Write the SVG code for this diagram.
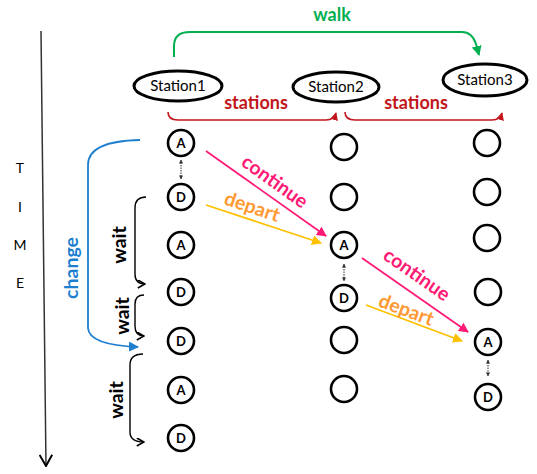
<svg xmlns="http://www.w3.org/2000/svg" width="537" height="474" viewBox="0 0 537 474">
<style>
.st{fill:#fff;stroke:#000;stroke-width:3}
.nd{fill:#fff;stroke:#000;stroke-width:2.6}
.t{font-family:Lato,"Open Sans","Liberation Sans",sans-serif;text-anchor:middle}
.sl{font-size:15px}
.nl{font-size:13px;font-weight:bold}
.lb{font-size:18px;font-weight:bold}
.rl{font-size:19.5px;font-weight:bold}
.tm{font-size:14px}
.ln{fill:none}
</style>
<defs>
<marker id="mg" viewBox="0 0 10 10" refX="9" refY="5" markerWidth="10" markerHeight="10" markerUnits="userSpaceOnUse" orient="auto"><path d="M0,0 L10,5 L0,10 Z" fill="#00B050"/></marker>
<marker id="mr" viewBox="0 0 10 10" refX="9" refY="5" markerWidth="8" markerHeight="8" markerUnits="userSpaceOnUse" orient="auto"><path d="M0,0 L10,5 L0,10 Z" fill="#C0161C"/></marker>
<marker id="mp" viewBox="0 0 10 10" refX="9" refY="5" markerWidth="10" markerHeight="10" markerUnits="userSpaceOnUse" orient="auto"><path d="M0,0 L10,5 L0,10 Z" fill="#FF1A75"/></marker>
<marker id="my" viewBox="0 0 10 10" refX="9" refY="5" markerWidth="10" markerHeight="10" markerUnits="userSpaceOnUse" orient="auto"><path d="M0,0 L10,5 L0,10 Z" fill="#FFC000"/></marker>
<marker id="mb" viewBox="0 0 10 10" refX="9" refY="5" markerWidth="10" markerHeight="10" markerUnits="userSpaceOnUse" orient="auto"><path d="M0,0 L10,5 L0,10 Z" fill="#1E7FD0"/></marker>
<marker id="mk" viewBox="0 0 10 10" refX="9" refY="5" markerWidth="9" markerHeight="9" markerUnits="userSpaceOnUse" orient="auto"><path d="M1,0.5 L9,5 L1,9.5" fill="none" stroke="#000" stroke-width="1.8"/></marker>
<marker id="md" viewBox="0 0 10 10" refX="9" refY="5" markerWidth="4" markerHeight="4" markerUnits="userSpaceOnUse" orient="auto-start-reverse"><path d="M0,0 L10,5 L0,10 Z" fill="#333"/></marker>
<marker id="mt" viewBox="0 0 10 10" refX="9" refY="5" markerWidth="14" markerHeight="14" markerUnits="userSpaceOnUse" orient="auto"><path d="M1,0.5 L9,5 L1,9.5" fill="none" stroke="#000" stroke-width="1.4"/></marker>
</defs>

<g id="time-axis">
<line x1="41" y1="31" x2="46" y2="466" stroke="#333" stroke-width="1.5" marker-end="url(#mt)"/>
<text class="t tm" x="20" y="173">T</text>
<text class="t tm" x="20" y="212">I</text>
<text class="t tm" x="20" y="250">M</text>
<text class="t tm" x="20" y="288">E</text>
</g>

<g id="connectors">
<path class="ln" d="M174,57 L174,46 Q174,32 190,32 L462,32 Q472,32 476,44 L479,55" stroke="#00B050" stroke-width="2" marker-end="url(#mg)"/>
<path class="ln" d="M168,112 Q168,120 178,120 L326,120 Q334,120 336,113" stroke="#C0161C" stroke-width="1.6" marker-end="url(#mr)"/>
<path class="ln" d="M345,112 Q345,120 355,120 L492,120 Q500,120 502,113" stroke="#C0161C" stroke-width="1.6" marker-end="url(#mr)"/>
<line x1="206" y1="151" x2="326" y2="236" stroke="#FF1A75" stroke-width="1.8" marker-end="url(#mp)"/>
<line x1="206" y1="205" x2="321" y2="243" stroke="#FFC000" stroke-width="1.8" marker-end="url(#my)"/>
<line x1="362" y1="258" x2="468" y2="332" stroke="#FF1A75" stroke-width="1.8" marker-end="url(#mp)"/>
<line x1="366" y1="305" x2="462" y2="341" stroke="#FFC000" stroke-width="1.8" marker-end="url(#my)"/>
<path class="ln" d="M140,140 Q88,141 88,165 L88,328 Q89,345 138,347" stroke="#1E7FD0" stroke-width="1.8" marker-end="url(#mb)"/>
<path class="ln" d="M146,197 Q135,197 135,208 L135,274 Q135,284 145,284" stroke="#000" stroke-width="1.4" marker-end="url(#mk)"/>
<path class="ln" d="M144,295 Q135,295 135,304 L135,326 Q135,336 144,336" stroke="#000" stroke-width="1.4" marker-end="url(#mk)"/>
<path class="ln" d="M143,354 Q130,354 130,365 L130,432 Q130,442 144,442" stroke="#000" stroke-width="1.4" marker-end="url(#mk)"/>
<line x1="181" y1="160" x2="181" y2="179" stroke="#333" stroke-width="1" stroke-dasharray="1.5,1" marker-start="url(#md)" marker-end="url(#md)"/>
<line x1="344" y1="264" x2="344" y2="281" stroke="#333" stroke-width="1" stroke-dasharray="1.5,1" marker-start="url(#md)" marker-end="url(#md)"/>
<line x1="488" y1="360" x2="488" y2="376" stroke="#333" stroke-width="1" stroke-dasharray="1.5,1" marker-start="url(#md)" marker-end="url(#md)"/>
<text class="t lb" x="332" y="21" fill="#00B050">walk</text>
<text class="t lb" x="256" y="109" fill="#C0161C">stations</text>
<text class="t lb" x="416" y="109" fill="#C0161C">stations</text>
<text class="t rl" x="0" y="0" fill="#FF1A75" transform="translate(271,187) rotate(35.5)">continue</text>
<text class="t rl" x="0" y="0" fill="#FF9933" transform="translate(250,213) rotate(18.5)">depart</text>
<text class="t rl" x="0" y="0" fill="#FF1A75" transform="translate(413,280) rotate(35)">continue</text>
<text class="t rl" x="0" y="0" fill="#FF9933" transform="translate(404,316) rotate(20.5)">depart</text>
<text class="t rl" x="0" y="0" fill="#1E7FD0" transform="translate(78,268) rotate(-90)">change</text>
<text class="t rl" x="0" y="0" fill="#000" transform="translate(126,245) rotate(-90)">wait</text>
<text class="t rl" x="0" y="0" fill="#000" transform="translate(129,316) rotate(-90)">wait</text>
<text class="t rl" x="0" y="0" fill="#000" transform="translate(123,400) rotate(-90)">wait</text>
</g>

<g id="station1"><ellipse class="st" cx="178" cy="86" rx="44" ry="15"/><text class="t sl" x="178" y="91">Station1</text></g>
<g id="station2"><ellipse class="st" cx="336" cy="87" rx="43" ry="15"/><text class="t sl" x="336" y="92">Station2</text></g>
<g id="station3"><ellipse class="st" cx="485" cy="80" rx="42" ry="16"/><text class="t sl" x="485" y="85">Station3</text></g>

<g id="s1-a1"><circle class="nd" cx="181" cy="143" r="13"/><text class="t nl" x="181" y="147.5">A</text></g>
<g id="s1-d1"><circle class="nd" cx="181" cy="197" r="13"/><text class="t nl" x="181" y="201.5">D</text></g>
<g id="s1-a2"><circle class="nd" cx="181" cy="245" r="13"/><text class="t nl" x="181" y="249.5">A</text></g>
<g id="s1-d2"><circle class="nd" cx="181" cy="292" r="13"/><text class="t nl" x="181" y="296.5">D</text></g>
<g id="s1-d3"><circle class="nd" cx="181" cy="341" r="13"/><text class="t nl" x="181" y="345.5">D</text></g>
<g id="s1-a3"><circle class="nd" cx="181" cy="390" r="13"/><text class="t nl" x="181" y="394.5">A</text></g>
<g id="s1-d4"><circle class="nd" cx="181" cy="438" r="13"/><text class="t nl" x="181" y="442.5">D</text></g>

<g id="s2-e1"><circle class="nd" cx="344" cy="147" r="13"/></g>
<g id="s2-e2"><circle class="nd" cx="344" cy="197" r="13"/></g>
<g id="s2-a"><circle class="nd" cx="344" cy="245" r="13"/><text class="t nl" x="344" y="249.5">A</text></g>
<g id="s2-d"><circle class="nd" cx="344" cy="298" r="13"/><text class="t nl" x="344" y="302.5">D</text></g>
<g id="s2-e3"><circle class="nd" cx="344" cy="340" r="13"/></g>
<g id="s2-e4"><circle class="nd" cx="344" cy="389" r="13"/></g>

<g id="s3-e1"><circle class="nd" cx="487" cy="143" r="13"/></g>
<g id="s3-e2"><circle class="nd" cx="487" cy="192" r="13"/></g>
<g id="s3-e3"><circle class="nd" cx="487" cy="238" r="13"/></g>
<g id="s3-e4"><circle class="nd" cx="488" cy="292" r="13"/></g>
<g id="s3-a"><circle class="nd" cx="488" cy="342" r="13"/><text class="t nl" x="488" y="346.5">A</text></g>
<g id="s3-d"><circle class="nd" cx="488" cy="397" r="13"/><text class="t nl" x="488" y="401.5">D</text></g>
</svg>
